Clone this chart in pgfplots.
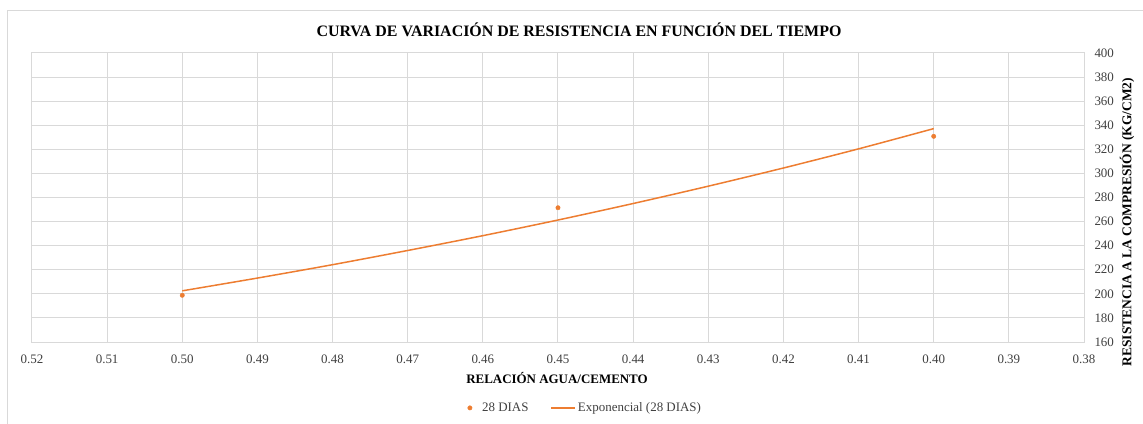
\documentclass[border=0pt]{standalone}
\usepackage{pgfplots}
\pgfplotsset{compat=1.18}
\usepackage{fontspec}
\setmainfont{Liberation Serif}
\definecolor{exorange}{RGB}{237,125,49}
\definecolor{gridgray}{RGB}{217,217,217}
\definecolor{ticktext}{RGB}{64,64,64}
\pgfplotsset{
  dotlegend/.style={legend image code/.code={\draw[##1] plot coordinates {(0bp,0bp)};}},
  linelegend/.style={legend image code/.code={\draw[##1] (0bp,0bp) -- (24bp,0bp);}},
}
\begin{document}
\begin{tikzpicture}[x=1bp,y=1bp]
\useasboundingbox (0,0) rectangle (1143,423);
\begin{scope}
\clip (0,0) rectangle (1143,423);
\draw[gridgray, line width=1bp] (7,-10) -- (7,412) -- (1160,412);
\end{scope}
\node[font=\bfseries\fontsize{16}{18}\selectfont] at (579,393) {CURVA DE VARIACIÓN DE RESISTENCIA EN FUNCIÓN DEL TIEMPO};
\node[font=\bfseries\fontsize{13}{15}\selectfont] at (557,45) {RELACIÓN AGUA/CEMENTO};
\node[font=\bfseries\fontsize{13.5}{15}\selectfont, rotate=90] at (1127,201) {RESISTENCIA A LA COMPRESIÓN (KG/CM2)};
\begin{axis}[
  at={(32bp,81bp)}, anchor=south west,
  scale only axis, width=1052bp, height=289bp,
  x dir=reverse,
  xmin=0.38, xmax=0.52, ymin=160, ymax=400,
  xtick={0.38,0.39,0.40,0.41,0.42,0.43,0.44,0.45,0.46,0.47,0.48,0.49,0.50,0.51,0.52},
  ytick={160,180,200,220,240,260,280,300,320,340,360,380,400},
  yticklabel pos=right,
  major tick length=0pt,
  grid=major,
  major grid style={gridgray, line width=1bp},
  axis line style={gridgray, line width=1bp},
  tick label style={font=\fontsize{13}{15}\selectfont, ticktext},
  /pgf/number format/assume math mode=true,
  xticklabel={\pgfmathprintnumber[fixed, fixed zerofill, precision=2]{\tick}},
  yticklabel={\pgfmathprintnumber[fixed, precision=0]{\tick}},
  xticklabel style={yshift=-9bp},
  yticklabel style={xshift=7bp},
  scaled x ticks=false,
  legend columns=2,
  legend style={at={(0.526,-0.228)}, anchor=center, draw=none, fill=none,
    font=\fontsize{13}{15}\selectfont, text=ticktext,
    /tikz/every even column/.append style={column sep=20bp}},
]
\addplot[only marks, mark=*, mark size=2.2bp, color=exorange, dotlegend]
  coordinates {(0.50,198.8) (0.45,271.5) (0.40,330.8)};
\addlegendentry{\hspace*{8bp}28 DIAS}
\addplot[no marks, smooth, color=exorange, line width=1.5bp, linelegend]
  coordinates {(0.50,202.5) (0.49,213.1) (0.48,224.2) (0.47,236.0) (0.46,248.3) (0.45,261.3) (0.44,275.0) (0.43,289.4) (0.42,304.5) (0.41,320.4) (0.40,337.2)};
\addlegendentry{Exponencial (28 DIAS)}
\end{axis}
\end{tikzpicture}
\end{document}
